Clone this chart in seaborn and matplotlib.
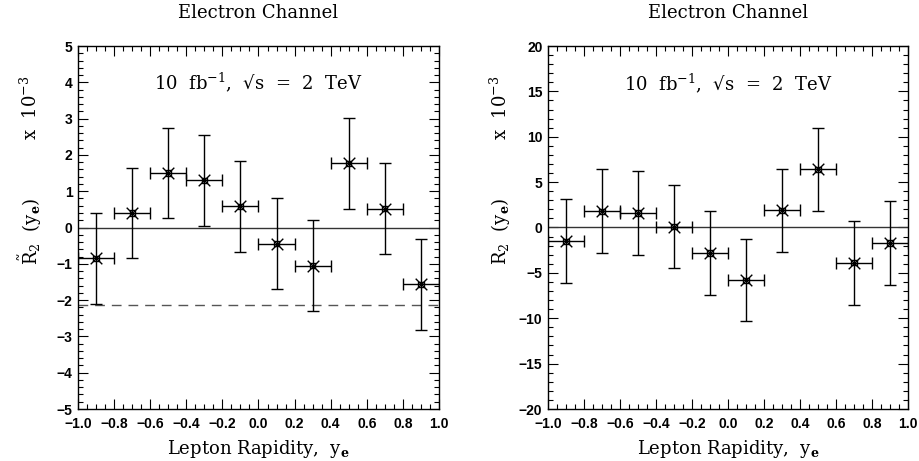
import numpy as np
import pandas as pd
import matplotlib
matplotlib.use("Agg")
import matplotlib.pyplot as plt
import seaborn as sns

# bin centres and half-widths (lepton rapidity)
rapidity = [-0.9, -0.7, -0.5, -0.3, -0.1, 0.1, 0.3, 0.5, 0.7, 0.9]
bin_half = [0.1] * 10

# left panel: R2 tilde (x 10^-3)
r2t_vals = [-0.85, 0.40, 1.50, 1.30, 0.58, -0.45, -1.05, 1.77, 0.52, -1.57]
r2t_errs = [1.25, 1.25, 1.25, 1.25, 1.25, 1.25, 1.25, 1.25, 1.25, 1.25]
r2t_ref = -2.13

# right panel: R2 (x 10^-3)
r2_vals = [-1.5, 1.8, 1.6, 0.1, -2.8, -5.8, 1.9, 6.4, -3.9, -1.7]
r2_errs = [4.6, 4.6, 4.6, 4.6, 4.6, 4.5, 4.6, 4.55, 4.6, 4.6]

sns.set_style("ticks")
plt.rcParams['font.family'] = ['Liberation Sans', 'DejaVu Sans']
plt.rcParams['mathtext.fontset'] = 'dejavuserif'
for k in ['text.color', 'axes.labelcolor', 'xtick.color', 'ytick.color', 'axes.edgecolor']:
    plt.rcParams[k] = 'black'
serif = ['DejaVu Serif']

fig = plt.figure(figsize=(9.19, 4.61), dpi=100)
W, H = 919, 461
ax1 = fig.add_axes([78 / W, 1 - 409 / H, 361 / W, 363 / H])
ax2 = fig.add_axes([548 / W, 1 - 409 / H, 360 / W, 363 / H])


def draw_panel(ax, vals, errs, ylim, major, minor, txt_y, ylab):
    df = pd.DataFrame({'y': rapidity, 'v': vals, 'e': errs, 'w': bin_half})
    ax.errorbar(df['y'], df['v'], yerr=df['e'], xerr=df['w'], fmt='none',
                ecolor='black', elinewidth=1.0, capsize=4, capthick=1.0, zorder=3)
    sns.scatterplot(data=df, x='y', y='v', marker='x', s=70, color='black',
                    linewidth=1.0, ax=ax, zorder=4, legend=False)
    sns.scatterplot(data=df, x='y', y='v', marker='s', s=14, facecolor='none',
                    edgecolor='black', linewidth=1.0, ax=ax, zorder=4, legend=False)
    ax.axhline(0, color='#333333', lw=1.0, zorder=2)
    ax.set_xlim(-1.0, 1.0)
    ax.set_ylim(*ylim)
    xt = np.arange(-1.0, 1.01, 0.2)
    ax.set_xticks(xt)
    ax.set_xticks(np.arange(-1.0, 1.01, 0.05), minor=True)
    ax.set_xticklabels([('\u2212' if t < -1e-9 else '') + '%.1f' % abs(t) for t in xt])
    yt = np.arange(ylim[0], ylim[1] + 0.01, major)
    ax.set_yticks(yt)
    ax.set_yticklabels([('\u2212' if t < 0 else '') + '%d' % abs(t) for t in yt])
    ax.set_yticks(np.arange(ylim[0], ylim[1] + 0.01, minor), minor=True)
    ax.tick_params(which='both', direction='in', top=True, right=True,
                   labelsize=10, width=0.8)
    ax.tick_params(axis='x', pad=6)
    ax.tick_params(axis='y', pad=4)
    ax.tick_params(which='major', length=7)
    ax.tick_params(which='minor', length=3.5)
    for lab in ax.get_xticklabels() + ax.get_yticklabels():
        lab.set_fontweight('bold')
    for s in ax.spines.values():
        s.set_linewidth(1.0)
    ax.set_xlabel(r'Lepton Rapidity,  $\mathrm{y}_\mathbf{e}$', family=serif,
                  fontsize=13, labelpad=5)
    ax.set_ylabel('')
    ax.set_title('Electron Channel', family=serif, fontsize=13, pad=20)
    ax.text(0.0, txt_y, '10  fb$^{-1}$,  \u221as  =  2  TeV', family=serif,
            fontsize=13, ha='center', va='center')
    ax.text(-0.133, 0.49, ylab, transform=ax.transAxes, rotation=90, family=serif,
            fontsize=13, ha='center', va='center')
    ax.text(-0.133, 0.83, r'x  10$^{-3}$', transform=ax.transAxes, rotation=90,
            family=serif, fontsize=13, ha='center', va='center')


draw_panel(ax1, r2t_vals, r2t_errs, (-5, 5), 1, 0.2, 4.0,
           r'$\tilde{\mathrm{R}}_2$  $(\mathrm{y}_\mathbf{e})$')
ax1.axhline(r2t_ref, color='#555555', lw=1.0, ls=(0, (7, 5)), zorder=2)
draw_panel(ax2, r2_vals, r2_errs, (-20, 20), 5, 1, 15.9,
           r'$\mathrm{R}_2$  $(\mathrm{y}_\mathbf{e})$')

fig.savefig('out.png', dpi=100)
